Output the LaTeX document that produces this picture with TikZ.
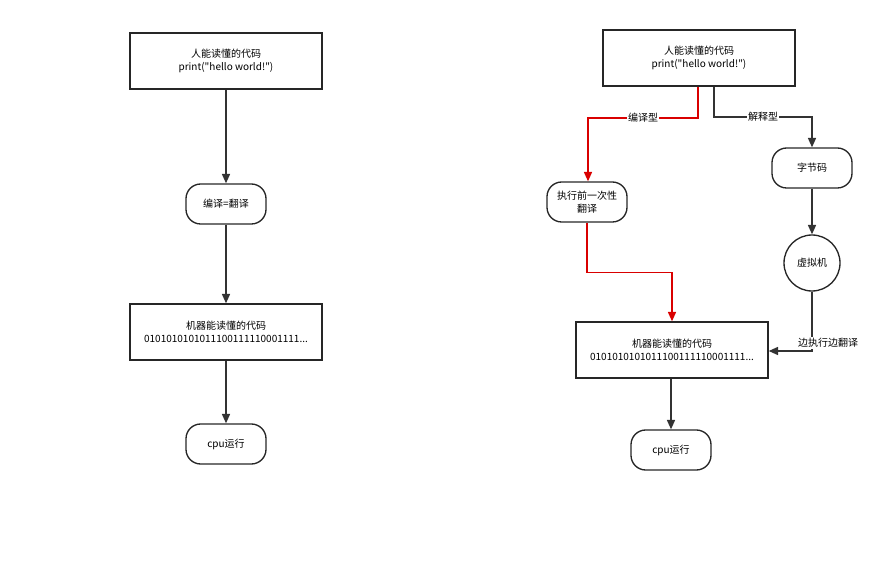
\documentclass[tikz,border=0pt]{standalone}
\usepackage{fontspec}
\setmainfont{Liberation Serif}
\newfontfamily\cjk{Noto Sans CJK SC}
\usetikzlibrary{arrows.meta}

\begin{document}
\begin{tikzpicture}[x=0.75pt,y=-0.75pt,
    font=\cjk\fontsize{7.5}{9.5}\selectfont,
    every node/.style={align=center,inner sep=0pt},
    codebox/.style={draw=black!85,line width=1pt,minimum width=144pt,minimum height=42pt},
    stepbox/.style={draw=black!85,line width=1pt,rounded corners=11pt,minimum width=60pt,minimum height=30pt},
    vmcircle/.style={draw=black!85,line width=1pt,circle,minimum size=42pt},
    flow/.style={draw=black!80,line width=1pt,-{Triangle[length=7pt,width=6pt]}},
    redflow/.style={flow,draw=red!85!black},
    lbl/.style={fill=white,inner sep=1pt}]
\useasboundingbox (0,0) rectangle (889,573);
% left chart
\node[codebox] (src1) at (226,61) {人能读懂的代码\\print("hello world!")};
\node[stepbox] (comp) at (226,204) {编译=翻译};
\node[codebox] (mach1) at (226,332) {机器能读懂的代码\\0101010101011100111110001111...};
\node[stepbox] (cpu1) at (226,444) {cpu运行};
\draw[flow] (src1) -- (comp);
\draw[flow] (comp) -- (mach1);
\draw[flow] (mach1) -- (cpu1);
% right chart
\node[codebox] (src2) at (699,58) {人能读懂的代码\\print("hello world!")};
\node[stepbox] (once) at (587,202) {执行前一次性\\翻译};
\node[stepbox] (bytes) at (812,168) {字节码};
\node[vmcircle] (vm) at (812,263) {虚拟机};
\node[codebox] (mach2) at (672,350) {机器能读懂的代码\\0101010101011100111110001111...};
\node[stepbox] (cpu2) at (671,450) {cpu运行};
\coordinate (r1) at (698,118);
\coordinate (r2) at (588,118);
\coordinate (b1) at (714,117);
\coordinate (b2) at (812,117);
\coordinate (v1) at (812,351);
\draw[redflow] (src2.south -| r1) -- (r1) -- node[lbl] {编译型} (r2) -- (once.north -| r2);
\draw[redflow] (once.south) -- ++(0,50) -| (mach2.north);
\draw[flow] (src2.south -| b1) -- (b1) -- node[lbl] {解释型} (b2) -- (bytes.north);
\draw[flow] (bytes) -- (vm);
\draw[flow] (vm) -- (v1) -- (mach2.east |- v1);
\draw[flow] (mach2.south -| cpu2) -- (cpu2);
\node[lbl] (interp) at (828,343) {边执行边翻译};
\end{tikzpicture}
\end{document}
